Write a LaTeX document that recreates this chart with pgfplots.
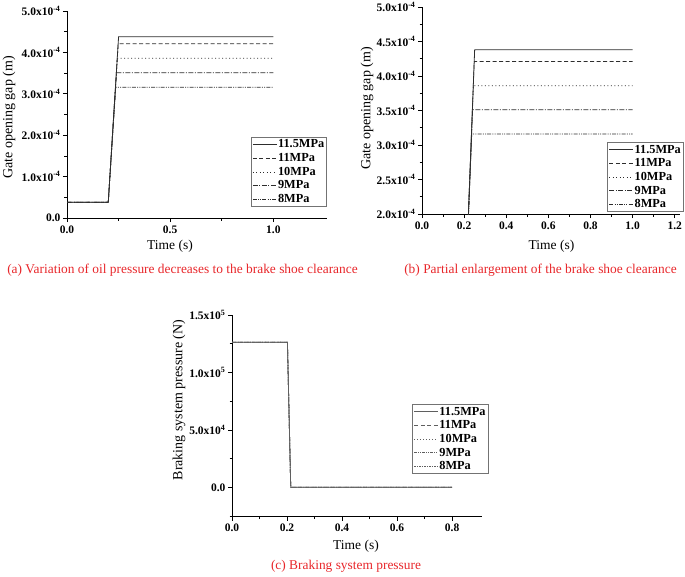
\documentclass[border=0pt]{standalone}
\usepackage{fontspec}
\setmainfont{Liberation Serif}
\usepackage{pgfplots}
\pgfplotsset{compat=1.18}
\definecolor{capred}{RGB}{232,38,42}
\definecolor{ln}{RGB}{45,45,45}
\definecolor{lnc}{RGB}{95,95,95}

\pgfplotsset{
  brk/.style={scale only axis, anchor=south west,
    axis x line*=bottom, axis y line*=left,
    axis line style={black, line width=0.8pt, -},
    tick align=outside, major tick length=4pt, minor tick length=2.5pt,
    tick style={black, line width=0.7pt},
    ticklabel style={font=\fontsize{11.5}{12}\selectfont\bfseries},
    yticklabel style={xshift=1pt},
    scaled x ticks=false, scaled y ticks=false,
    legend cell align=left,
    legend style={draw=black!55, line width=0.6pt, anchor=north west,
      font=\fontsize{12.3}{13}\selectfont\bfseries, inner sep=1.5pt,
      row sep=2.4pt, nodes={inner sep=0.8pt}},
    legend image code/.code={\draw[##1] (0pt,0pt) -- (24pt,0pt);}},
  s115/.style={ln, line width=0.8pt, solid},
  s11/.style={ln, line width=0.8pt, dash pattern=on 4pt off 2.5pt},
  s10/.style={ln, line width=0.8pt, dash pattern=on 1pt off 2.5pt},
  s9/.style={ln, line width=0.8pt, dash pattern=on 5pt off 1.5pt on 1pt off 1.5pt},
  s8/.style={ln, line width=0.8pt, dash pattern=on 4pt off 1.2pt on 1pt off 1.2pt on 1pt off 1.2pt},
}

\begin{document}
\begin{tikzpicture}
\useasboundingbox (0,0) rectangle (685pt,-576pt);

% (a) full view
\begin{axis}[brk, at={(67pt,-218pt)}, width=260pt, height=207pt,
  xmin=0, xmax=1.26, ymin=0, ymax=5e-4,
  xtick={0,0.5,1}, xticklabels={0.0,0.5,1.0}, minor x tick num=1,
  ytick={0,1e-4,2e-4,3e-4,4e-4,5e-4},
  yticklabels={0.0,1.0x10\textsuperscript{-4},2.0x10\textsuperscript{-4},3.0x10\textsuperscript{-4},4.0x10\textsuperscript{-4},5.0x10\textsuperscript{-4}},
  minor y tick num=1,
  legend style={at={(0.7065,0.39)}}]
\addplot[s115] coordinates {(0,0.38e-4) (0.2,0.38e-4) (0.25,4.38e-4) (1.0,4.38e-4)};
\addplot[s11] coordinates {(0,0.38e-4) (0.2,0.38e-4) (0.248,4.21e-4) (1.0,4.21e-4)};
\addplot[s10] coordinates {(0,0.38e-4) (0.2,0.38e-4) (0.244,3.86e-4) (1.0,3.86e-4)};
\addplot[s9] coordinates {(0,0.38e-4) (0.2,0.38e-4) (0.24,3.51e-4) (1.0,3.51e-4)};
\addplot[s8] coordinates {(0,0.38e-4) (0.2,0.38e-4) (0.236,3.16e-4) (1.0,3.16e-4)};
\legend{11.5MPa,11MPa,10MPa,9MPa,8MPa}
\end{axis}

% (b) partial enlargement
\begin{axis}[brk, at={(422pt,-214pt)}, width=258pt, height=207pt,
  xmin=0, xmax=1.225, ymin=2e-4, ymax=5e-4,
  xtick={0,0.2,0.4,0.6,0.8,1.0,1.2}, xticklabels={0.0,0.2,0.4,0.6,0.8,1.0,1.2},
  minor x tick num=1,
  ytick={2e-4,2.5e-4,3e-4,3.5e-4,4e-4,4.5e-4,5e-4},
  yticklabels={2.0x10\textsuperscript{-4},2.5x10\textsuperscript{-4},3.0x10\textsuperscript{-4},3.5x10\textsuperscript{-4},4.0x10\textsuperscript{-4},4.5x10\textsuperscript{-4},5.0x10\textsuperscript{-4}},
  minor y tick num=1,
  legend style={at={(0.718,0.346)}}]
\addplot[s115] coordinates {(0,0.38e-4) (0.2,0.38e-4) (0.25,4.38e-4) (1.0,4.38e-4)};
\addplot[s11] coordinates {(0,0.38e-4) (0.2,0.38e-4) (0.248,4.21e-4) (1.0,4.21e-4)};
\addplot[s10] coordinates {(0,0.38e-4) (0.2,0.38e-4) (0.244,3.86e-4) (1.0,3.86e-4)};
\addplot[s9] coordinates {(0,0.38e-4) (0.2,0.38e-4) (0.24,3.51e-4) (1.0,3.51e-4)};
\addplot[s8] coordinates {(0,0.38e-4) (0.2,0.38e-4) (0.236,3.16e-4) (1.0,3.16e-4)};
\legend{11.5MPa,11MPa,10MPa,9MPa,8MPa}
\end{axis}

% (c) braking system pressure
\begin{axis}[brk, at={(232pt,-516.7pt)}, width=249.5pt, height=201.7pt,
  xmin=0, xmax=0.907, ymin=-2.56e4, ymax=1.5e5,
  xtick={0,0.2,0.4,0.6,0.8}, xticklabels={0.0,0.2,0.4,0.6,0.8}, minor x tick num=1,
  ytick={0,5e4,1e5,1.5e5},
  yticklabels={0.0,5.0x10\textsuperscript{4},1.0x10\textsuperscript{5},1.5x10\textsuperscript{5}},
  minor ytick={-2.5e4,2.5e4,7.5e4,1.25e5},
  legend style={at={(0.7217,0.557)}}]
\addlegendimage{lnc, line width=0.8pt, solid}
\addlegendimage{lnc, line width=0.8pt, dash pattern=on 4pt off 2.5pt}
\addlegendimage{lnc, line width=0.8pt, dash pattern=on 1pt off 2pt}
\addlegendimage{lnc, line width=0.8pt, dash pattern=on 3pt off 1pt on 1pt off 1pt on 1pt off 1pt}
\addlegendimage{lnc, line width=0.8pt, dash pattern=on 1.5pt off 1pt}
\addplot[lnc, line width=0.8pt, dash pattern=on 1.5pt off 1pt, forget plot] coordinates {(0,1.262e5) (0.2015,1.262e5) (0.2135,0) (0.8,0)};
\addplot[lnc, line width=0.8pt, dash pattern=on 3pt off 1pt on 1pt off 1pt on 1pt off 1pt, forget plot] coordinates {(0,1.262e5) (0.2015,1.262e5) (0.2135,0) (0.8,0)};
\addplot[lnc, line width=0.8pt, dash pattern=on 1pt off 2pt, forget plot] coordinates {(0,1.262e5) (0.2015,1.262e5) (0.2135,0) (0.8,0)};
\addplot[lnc, line width=0.8pt, dash pattern=on 4pt off 2.5pt, forget plot] coordinates {(0,1.262e5) (0.2015,1.262e5) (0.2135,0) (0.8,0)};
\addplot[lnc, line width=0.8pt, solid, forget plot] coordinates {(0,1.262e5) (0.2015,1.262e5) (0.2135,0) (0.8,0)};
\legend{11.5MPa,11MPa,10MPa,9MPa,8MPa}
\end{axis}

% axis labels and captions
\node[rotate=90, font=\fontsize{14}{15}\selectfont] at (9pt,-117.5pt) {Gate opening gap (m)};
\node[rotate=90, font=\fontsize{14}{15}\selectfont] at (367pt,-108.5pt) {Gate opening gap (m)};
\node[rotate=90, font=\fontsize{14}{15}\selectfont] at (179pt,-400pt) {Braking system pressure (N)};
\node[font=\fontsize{13.5}{14}\selectfont] at (170pt,-246.5pt) {Time (s)};
\node[font=\fontsize{13.5}{14}\selectfont] at (551.5pt,-246.5pt) {Time (s)};
\node[font=\fontsize{13.5}{14}\selectfont] at (356pt,-546.5pt) {Time (s)};
\node[font=\fontsize{13.4}{14}\selectfont, text=capred] at (182.5pt,-270pt) {(a) Variation of oil pressure decreases to the brake shoe clearance};
\node[font=\fontsize{13.4}{14}\selectfont, text=capred] at (540.5pt,-270pt) {(b) Partial enlargement of the brake shoe clearance};
\node[font=\fontsize{13.4}{14}\selectfont, text=capred] at (346pt,-566.5pt) {(c) Braking system pressure};
\end{tikzpicture}
\end{document}
